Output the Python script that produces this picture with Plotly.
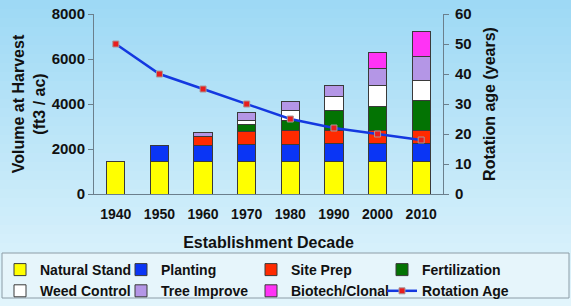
import plotly.graph_objects as go

decades = ["1940", "1950", "1960", "1970", "1980", "1990", "2000", "2010"]
natural_stand = [1430, 1430, 1430, 1430, 1430, 1430, 1430, 1430]
planting = [None, 710, 720, 760, 790, 820, 820, 820]
site_prep = [None, None, 400, 580, 620, 590, 590, 590]
fertilization = [None, None, None, 300, 420, 890, 1070, 1300]
weed_control = [None, None, None, 190, 440, 590, 900, 920]
tree_improve = [None, None, 190, 350, 420, 520, 770, 1070]
biotech_clonal = [None, None, None, None, None, None, 710, 1110]
rotation_age = [50, 40, 35, 30, 25, 22, 20, 18]

W, H = 571, 306
L, R, T, B = 94, 128, 14, 112
PW, PH = W - L - R, H - T - B
FONT = "Liberation Sans, Arial, sans-serif"

def px_x(px):
    return (px - L) / PW

def px_y(py):
    return (H - B - py) / PH

fig = go.Figure()

# (name, values, colour, legend column)
series = [
    ("Natural Stand", natural_stand, "#ffff00", "legend"),
    ("Planting", planting, "#0a35f5", "legend2"),
    ("Site Prep", site_prep, "#ff2a00", "legend3"),
    ("Fertilization", fertilization, "#037303", "legend4"),
    ("Weed Control", weed_control, "#ffffff", "legend"),
    ("Tree Improve", tree_improve, "#b496e6", "legend2"),
    ("Biotech/Clonal", biotech_clonal, "#ff33f5", "legend3"),
]
for name, vals, col, lg in series:
    fig.add_trace(go.Bar(
        x=decades, y=vals, name=name, legend=lg, legendgroup=name,
        marker=dict(color=col, line=dict(color="#3a3a3a", width=1)),
    ))

fig.add_trace(go.Scatter(
    x=decades, y=rotation_age, name="Rotation Age", yaxis="y2",
    legend="legend4", legendgroup="Rotation Age",
    mode="lines+markers",
    line=dict(color="#1438e0", width=2.5),
    marker=dict(symbol="square", size=6, color="#e81e1e",
                line=dict(color="#a89898", width=1)),
))

# gradient background bands
shapes = []
n = 34
top = (158, 217, 245)
bot = (226, 245, 252)
for i in range(n):
    y0 = i * H / n
    y1 = (i + 1) * H / n + 0.5
    t = i / (n - 1)
    c = tuple(int(round(top[k] + (bot[k] - top[k]) * t)) for k in range(3))
    shapes.append(dict(type="rect", xref="paper", yref="paper", layer="below",
                       x0=px_x(0), x1=px_x(W), y0=px_y(y0), y1=px_y(y1),
                       fillcolor="rgb(%d,%d,%d)" % c, line=dict(width=0)))
# legend box
shapes.append(dict(type="rect", xref="paper", yref="paper", layer="below",
                   x0=px_x(2), x1=px_x(569), y0=px_y(253), y1=px_y(298),
                   fillcolor="#e6f5fb", line=dict(color="#8c9ca6", width=1)))

def legend_at(text_left_px, top_px):
    return dict(orientation="v", xref="paper", yref="container",
                x=px_x(max(text_left_px - 40, 0)), y=1 - top_px / H,
                xanchor="left", yanchor="top",
                bgcolor="rgba(0,0,0,0)", borderwidth=0,
                font=dict(size=14, weight="bold", color="#111111"),
                traceorder="normal", tracegroupgap=2, itemwidth=30)

LEG_TOP = 254

fig.update_layout(
    width=W, height=H, autosize=False,
    margin=dict(l=L, r=R, t=T, b=B, pad=0),
    paper_bgcolor="#cdeefa", plot_bgcolor="rgba(0,0,0,0)",
    barmode="stack", bargap=0.58,
    font=dict(family=FONT, color="#111111", weight="bold"),
    shapes=shapes,
    xaxis=dict(type="category", showline=True, linecolor="#6b7f8c", linewidth=1,
               automargin=False,
               ticks="", ticklabelstandoff=7, tickfont=dict(size=14, weight="bold"),
               title=dict(text="Establishment Decade", font=dict(size=16, weight="bold"),
                          standoff=16),
               showgrid=False),
    yaxis=dict(range=[0, 8000], tickvals=[0, 2000, 4000, 6000, 8000],
               automargin=False,
               showline=True, linecolor="#6b7f8c", linewidth=1,
               ticks="outside", ticklen=5, tickcolor="#6b7f8c",
               tickfont=dict(size=15, weight="bold"), showgrid=False, zeroline=False,
               title=dict(text="Volume at Harvest<br>(ft3 / ac)",
                          font=dict(size=16, weight="bold"), standoff=2)),
    yaxis2=dict(range=[0, 60], tickvals=[0, 10, 20, 30, 40, 50, 60],
                automargin=False,
                overlaying="y", side="right",
                showline=True, linecolor="#6b7f8c", linewidth=1,
                ticks="outside", ticklen=5, tickcolor="#6b7f8c", ticklabelstandoff=3,
                tickfont=dict(size=15, weight="bold"), showgrid=False, zeroline=False,
                title=dict(text="Rotation age (years)",
                           font=dict(size=16, weight="bold"), standoff=13)),
    legend=legend_at(30, LEG_TOP),
    legend2=legend_at(161, LEG_TOP),
    legend3=legend_at(291, LEG_TOP),
    legend4=legend_at(422, LEG_TOP),
)

fig.write_html("out.html", config={"displayModeBar": False},
               post_script="document.body.style.margin='0';document.body.style.padding='0';")
